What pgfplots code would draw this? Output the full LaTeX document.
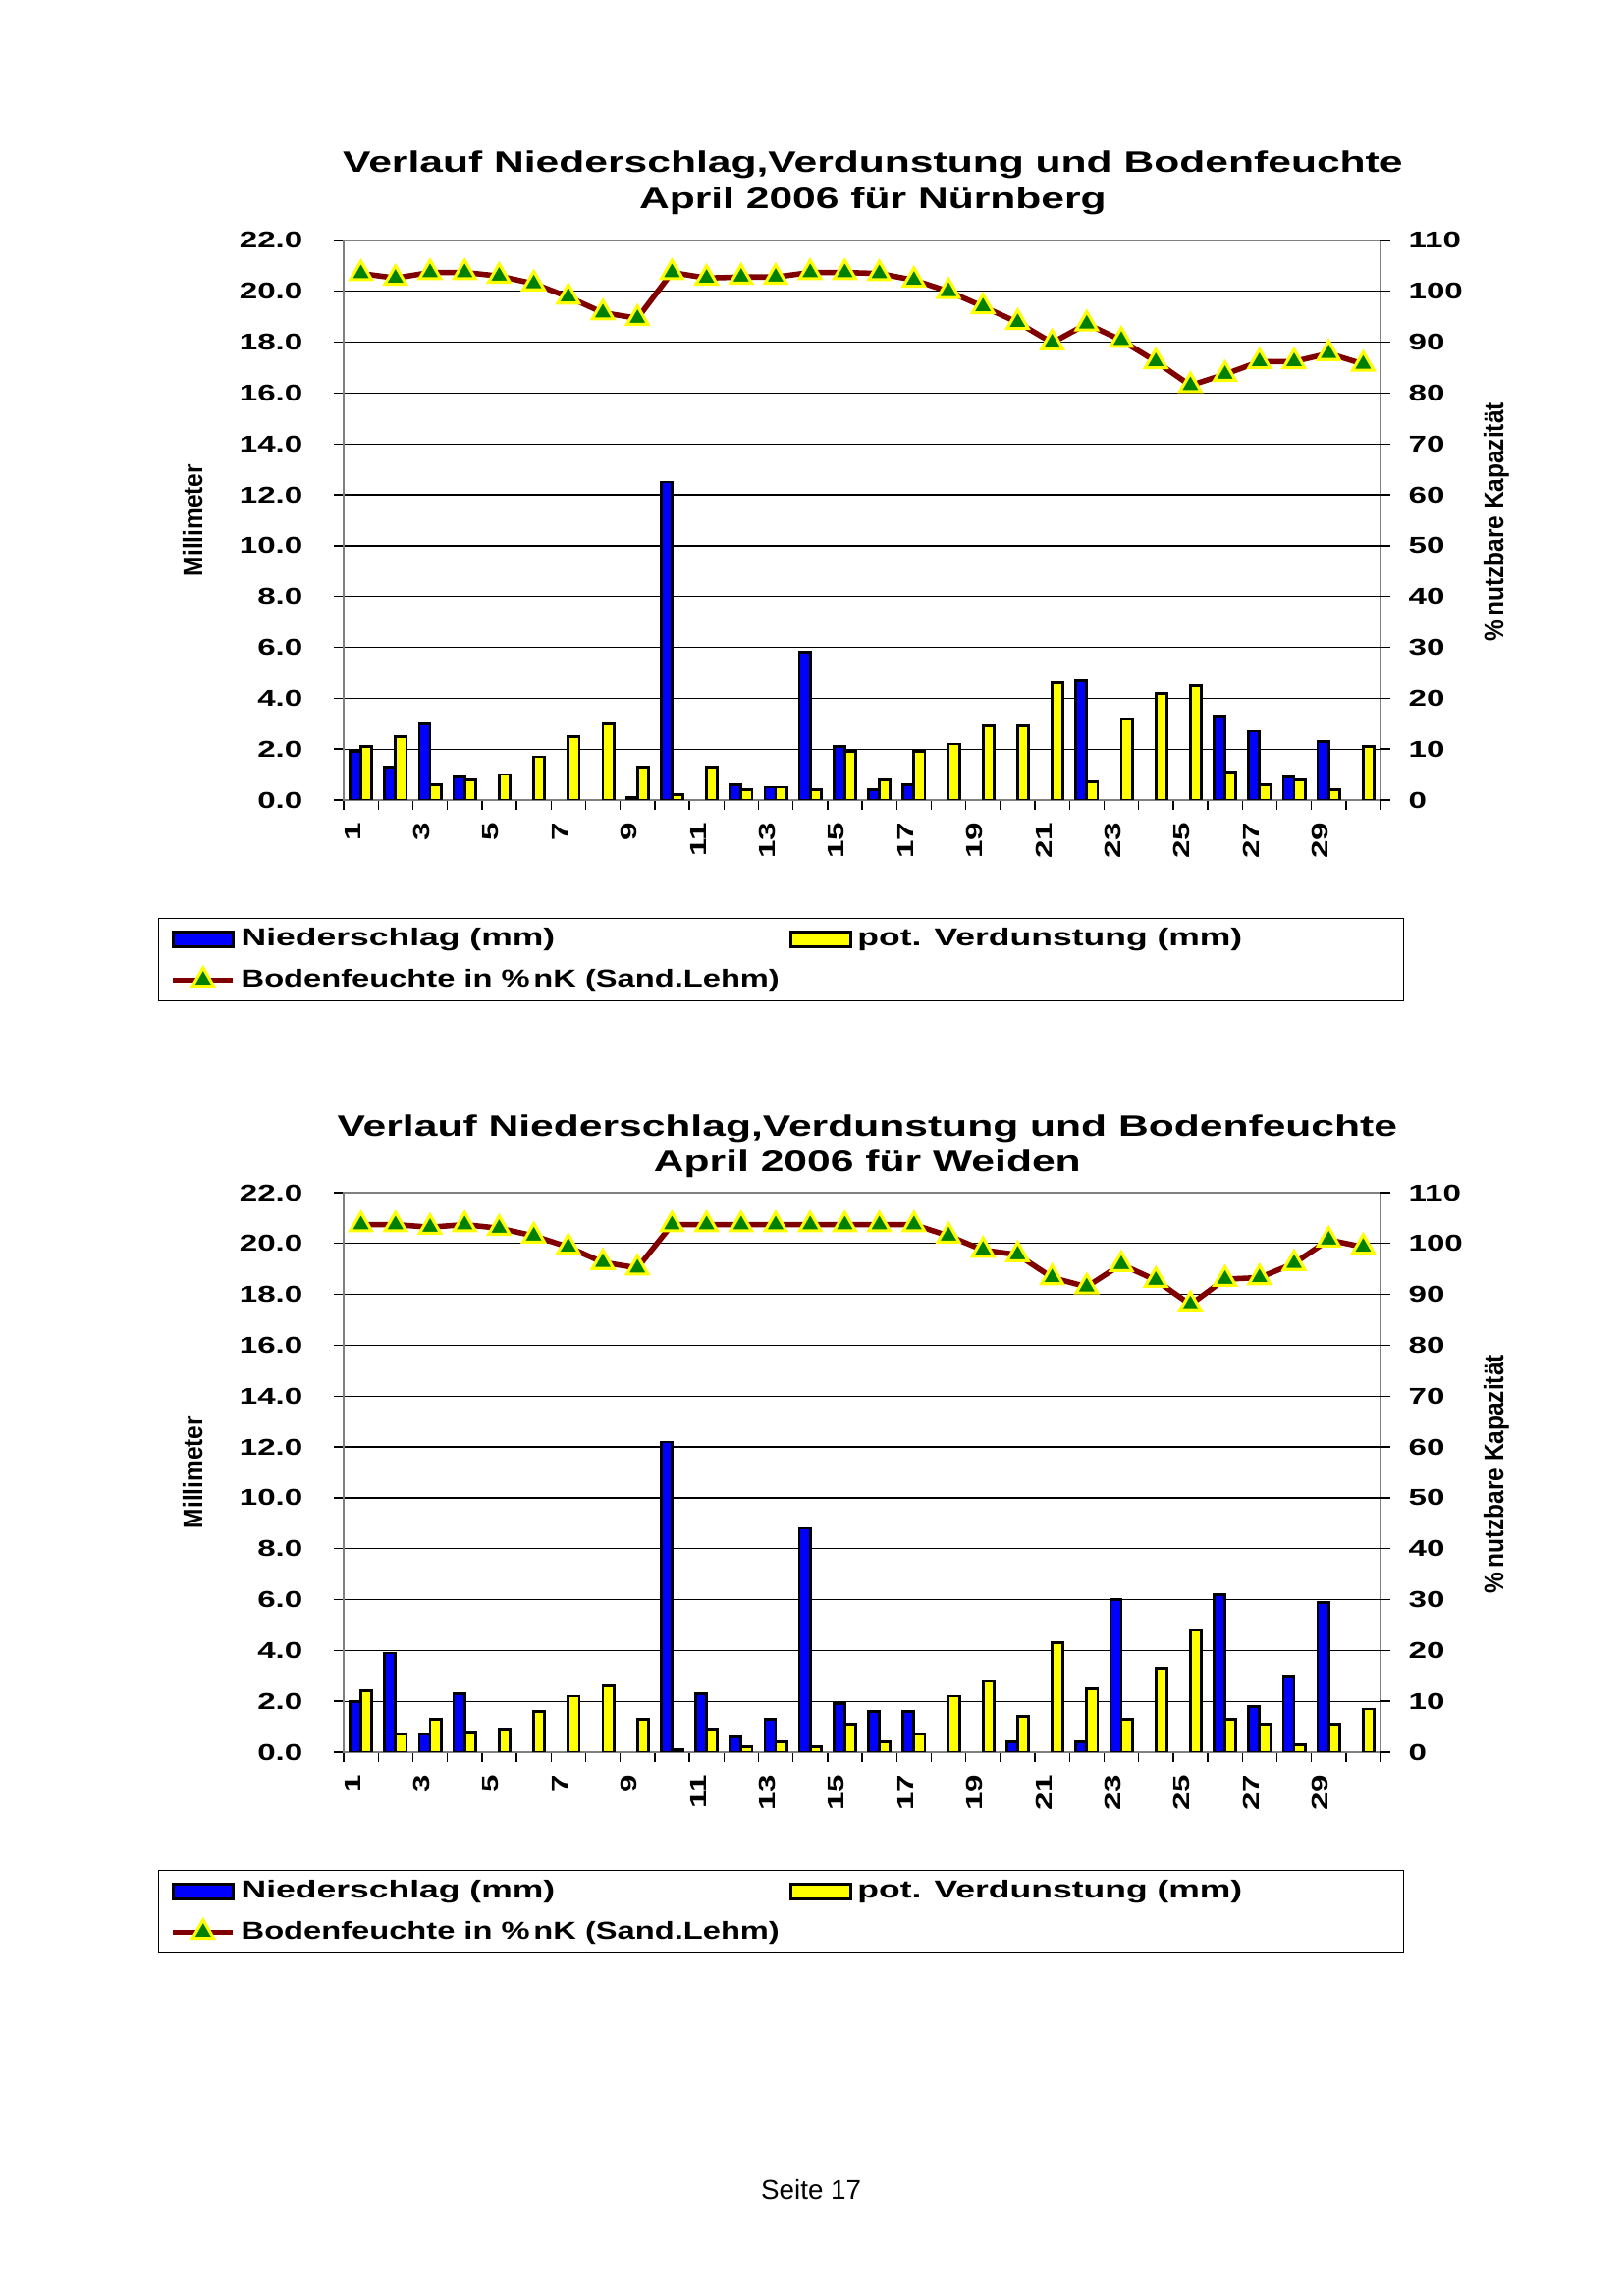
\documentclass[border=0pt]{standalone}
\usepackage{pgfplots}
\pgfplotsset{compat=1.18}
\usepackage{pgfplotstable}
\usepackage{graphicx}
\usepackage{fontspec}
\setmainfont{Liberation Sans}
\newfontfamily\wfont[FakeStretch=1.42]{Liberation Sans Bold}
\newfontfamily\cfont[FakeStretch=0.88]{Liberation Sans Bold}

\definecolor{nsblue}{HTML}{0000FF}
\definecolor{vdyellow}{HTML}{FFFF00}
\definecolor{bfred}{HTML}{800000}
\definecolor{bfgreen}{HTML}{008000}

% day, Niederschlag (mm), pot. Verdunstung (mm), Bodenfeuchte (% nK)
\pgfplotstableread{
day N V B
1 1.9 2.1 103.5
2 1.3 2.5 102.6
3 3.0 0.6 103.7
4 0.9 0.8 103.7
5 0.0 1.0 103.0
6 0.0 1.7 101.5
7 0.0 2.5 98.9
8 0.0 3.0 95.8
9 0.1 1.3 94.7
10 12.5 0.2 103.7
11 0.0 1.3 102.6
12 0.6 0.4 102.8
13 0.5 0.5 102.8
14 5.8 0.4 103.7
15 2.1 1.9 103.7
16 0.4 0.8 103.5
17 0.6 1.9 102.2
18 0.0 2.2 100.0
19 0.0 2.9 97.0
20 0.0 2.9 93.9
21 0.0 4.6 89.9
22 4.7 0.7 93.6
23 0.0 3.2 90.4
24 0.0 4.2 86.2
25 0.0 4.5 81.5
26 3.3 1.1 83.7
27 2.7 0.6 86.2
28 0.9 0.8 86.2
29 2.3 0.4 87.8
30 0.0 2.1 85.7
}\nuernberg

\pgfplotstableread{
day N V B
1 2.0 2.4 103.7
2 3.9 0.7 103.7
3 0.7 1.3 103.2
4 2.3 0.8 103.7
5 0.0 0.9 103.0
6 0.0 1.6 101.5
7 0.0 2.2 99.3
8 0.0 2.6 96.3
9 0.0 1.3 95.2
10 12.2 0.1 103.7
11 2.3 0.9 103.7
12 0.6 0.2 103.7
13 1.3 0.4 103.7
14 8.8 0.2 103.7
15 1.9 1.1 103.7
16 1.6 0.4 103.7
17 1.6 0.7 103.7
18 0.0 2.2 101.5
19 0.0 2.8 98.7
20 0.4 1.4 97.8
21 0.0 4.3 93.3
22 0.4 2.5 91.5
23 6.0 1.3 95.9
24 0.0 3.3 92.8
25 0.0 4.8 88.0
26 6.2 1.3 93.0
27 1.8 1.1 93.3
28 3.0 0.3 96.1
29 5.9 1.1 100.7
30 0.0 1.7 99.3
}\weiden

\pgfplotsset{
  base/.style={
    scale only axis, width=380.16pt, height=205.2pt,
    anchor=south west, xmin=0.5, xmax=30.5,
    tick align=outside, major tick length=3.6pt,
    tick style={black, line width=0.5pt},
    /pgf/number format/assume math mode=true,
    ticklabel style={font=\wfont\fontsize{8.4}{10}\selectfont},
  },
  barax/.style={
    base, ymin=0, ymax=22,
    ytick={0,2,...,22},
    yticklabels={0.0,2.0,4.0,6.0,8.0,10.0,12.0,14.0,16.0,18.0,20.0,22.0},
    ymajorgrids, major grid style={black, line width=0.45pt},
    axis line style={draw=gray, line width=0.8pt},
    xtick pos=left, ytick pos=left,
    xtick={0.5,1.5,...,30.5}, xticklabels={},
    extra x ticks={1,3,5,7,9,11,13,15,17,19,21,23,25,27,29},
    extra x tick labels={1,3,5,7,9,11,13,15,17,19,21,23,25,27,29},
    extra x tick style={major tick length=0pt},
    xticklabel style={yshift=-8pt, rotate=90, anchor=south east, inner sep=0pt},
    yticklabel style={anchor=east, inner sep=0pt, xshift=-11.2pt},
    ybar=0pt, bar width=4pt,
  },
  lineax/.style={
    base, ymin=0, ymax=110,
    ytick={0,10,...,110},
    yticklabels={0,10,20,30,40,50,60,70,80,90,100,110},
    axis y line*=right, axis x line=none,
    y axis line style={draw=none},
    yticklabel style={anchor=west, inner sep=0pt, xshift=6.5pt},
    legend columns=2, legend cell align=left,
    legend style={at={(-0.179,-0.2105)}, anchor=north west,
      draw=black, line width=0.4pt, fill=white,
      inner xsep=4.3pt, inner ysep=3.6pt,
      column sep=2pt, row sep=6.5pt,
      nodes={inner sep=0pt},
      font=\wfont\fontsize{9}{11}\selectfont},
  },
  nbar/.style={draw=black, fill=nsblue, line width=1pt,
    y filter/.expression={y==0 ? nan : y}},
  vbar/.style={draw=black, fill=vdyellow, line width=1pt,
    y filter/.expression={y==0 ? nan : y}},
  bfline/.style={color=bfred, line width=2pt,
    mark=triangle*, mark size=4.5pt,
    mark options={solid, fill=bfgreen, draw=vdyellow, line width=1.1pt},
    legend image code/.code={\draw[mark repeat=2, mark phase=2, ##1]
      plot coordinates {(0pt,0pt) (11pt,0pt) (22pt,0pt)};}},
  nleg/.style={legend image code/.code={
    \draw[draw=black, fill=nsblue, line width=1pt] (0pt,-2.7pt) rectangle (22pt,2.7pt);}},
  vleg/.style={legend image code/.code={
    \draw[draw=black, fill=vdyellow, line width=1pt] (0pt,-2.7pt) rectangle (22pt,2.7pt);}},
}

\newcommand{\bfentry}{\scalebox{0.92}[1]{Bodenfeuchte in \%\,nK (Sand.Lehm)}}

\begin{document}
\begin{tikzpicture}
\path[use as bounding box] (0pt,0pt) rectangle (595.08pt,842.04pt);

% ---------- Nuernberg ----------
\node[anchor=base, font=\wfont\fontsize{10.8}{12}\selectfont] at (320pt,778.7pt)
  {Verlauf Niederschlag,Verdunstung und Bodenfeuchte};
\node[anchor=base, font=\wfont\fontsize{10.8}{12}\selectfont] at (320pt,765.4pt)
  {April 2006 für Nürnberg};
\node[rotate=90, font=\cfont\fontsize{10}{12}\selectfont] at (70.6pt,651.2pt) {Millimeter};
\node[rotate=90, font=\cfont\fontsize{10}{12}\selectfont] at (548.6pt,650.5pt) {\%\,nutzbare Kapazität};

\begin{axis}[barax, at={(126pt,548.64pt)}]
\addplot[nbar] table[x=day, y=N] {\nuernberg};
\addplot[vbar] table[x=day, y=V] {\nuernberg};
\end{axis}
\begin{axis}[lineax, at={(126pt,548.64pt)}]
\addlegendimage{nleg}
\addlegendentry{\makebox[199pt][l]{Niederschlag (mm)}}
\addlegendimage{vleg}
\addlegendentry{\makebox[196pt][l]{pot. Verdunstung (mm)}}
\addplot[bfline] table[x=day, y=B] {\nuernberg};
\addlegendentry{\bfentry}
\end{axis}

% ---------- Weiden ----------
\node[anchor=base, font=\wfont\fontsize{10.8}{12}\selectfont] at (318pt,425.5pt)
  {Verlauf Niederschlag,Verdunstung und Bodenfeuchte};
\node[anchor=base, font=\wfont\fontsize{10.8}{12}\selectfont] at (318pt,412.2pt)
  {April 2006 für Weiden};
\node[rotate=90, font=\cfont\fontsize{10}{12}\selectfont] at (70.6pt,302.0pt) {Millimeter};
\node[rotate=90, font=\cfont\fontsize{10}{12}\selectfont] at (548.6pt,301.3pt) {\%\,nutzbare Kapazität};

\begin{axis}[barax, at={(126pt,199.44pt)}]
\addplot[nbar] table[x=day, y=N] {\weiden};
\addplot[vbar] table[x=day, y=V] {\weiden};
\end{axis}
\begin{axis}[lineax, at={(126pt,199.44pt)}]
\addlegendimage{nleg}
\addlegendentry{\makebox[199pt][l]{Niederschlag (mm)}}
\addlegendimage{vleg}
\addlegendentry{\makebox[196pt][l]{pot. Verdunstung (mm)}}
\addplot[bfline] table[x=day, y=B] {\weiden};
\addlegendentry{\bfentry}
\end{axis}

\node[anchor=base, font=\fontsize{10}{12}\selectfont] at (297.4pt,35.3pt) {Seite 17};
\end{tikzpicture}
\end{document}
